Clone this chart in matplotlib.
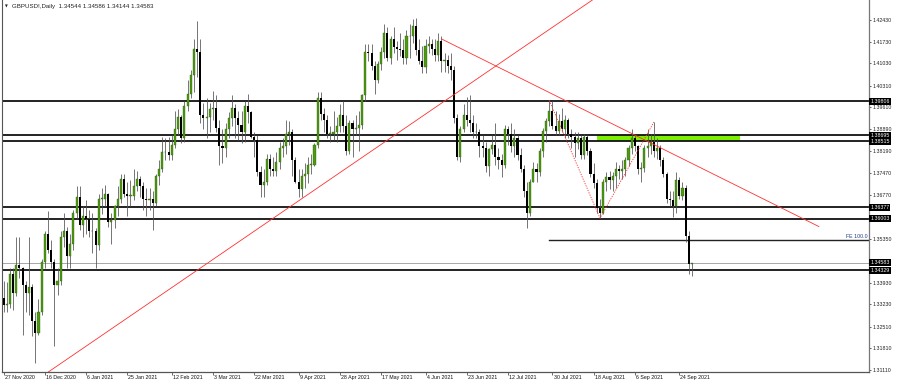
#!/usr/bin/env python3

import matplotlib.pyplot as plt
import matplotlib.transforms as mtransforms
from matplotlib.patches import Rectangle
import numpy as np
import pandas as pd

# ============================================================
# DATA  (GBPUSD! daily)
# ============================================================

first_open = 1.3345

highs = [
    1.3398, 1.3395,
    1.3440, 1.3440, 1.3540, 1.3540, 1.3445, 1.3400, 1.3540, 1.3390, 1.3300, 1.3340,
    1.3470, 1.3560, 1.3624, 1.3530, 1.3470, 1.3440, 1.3560, 1.3620, 1.3575, 1.3550,
    1.3630, 1.3705,
    1.3705, 1.3640, 1.3660, 1.3630, 1.3620, 1.3570, 1.3680, 1.3700, 1.3710, 1.3685,
    1.3620, 1.3645, 1.3705, 1.3745, 1.3745, 1.3720, 1.3725, 1.3760, 1.3755, 1.3740,
    1.3720, 1.3700, 1.3700, 1.3690, 1.3745, 1.3790, 1.3865, 1.3860, 1.3865, 1.3870,
    1.3950, 1.3955, 1.3935, 1.3980, 1.4050, 1.4080, 1.4180, 1.4241, 1.4180, 1.3975,
    1.3990, 1.3975, 1.4015, 1.4000, 1.3920, 1.3890, 1.3910, 1.3945, 1.4000, 1.3970,
    1.3950, 1.3950, 1.3980, 1.4005, 1.3950, 1.3880, 1.3870, 1.3770, 1.3760, 1.3810,
    1.3810, 1.3800, 1.3815,
    1.3850, 1.3860, 1.3920, 1.3915, 1.3890, 1.3800, 1.3760, 1.3760, 1.3780, 1.3800,
    1.3810, 1.3845, 1.4010, 1.4010, 1.3960, 1.3935, 1.3900, 1.3950, 1.3930, 1.3970,
    1.3980, 1.3935,
    1.3920, 1.3920, 1.3935, 1.3950, 1.4005, 1.4165, 1.4165, 1.4165, 1.4110, 1.4110,
    1.4155, 1.4230, 1.4220, 1.4190, 1.4220, 1.4175, 1.4200, 1.4180, 1.4210, 1.4230,
    1.4245,
    1.4250, 1.4180, 1.4160, 1.4180, 1.4190, 1.4180, 1.4180, 1.4200, 1.4190, 1.4135,
    1.4130, 1.4135, 1.4095, 1.3940, 1.3900, 1.3970, 1.3995, 1.4000, 1.3935, 1.3910,
    1.3890, 1.3870,
    1.3850, 1.3830, 1.3870, 1.3910, 1.3830, 1.3810, 1.3905, 1.3900, 1.3910, 1.3890,
    1.3870, 1.3830, 1.3775, 1.3720, 1.3730, 1.3785, 1.3780, 1.3830, 1.3895, 1.3925,
    1.3983, 1.3980,
    1.3950, 1.3940, 1.3960, 1.3935, 1.3925, 1.3890, 1.3880, 1.3880, 1.3870, 1.3875,
    1.3870, 1.3830, 1.3780, 1.3730, 1.3665, 1.3730, 1.3750, 1.3755, 1.3750, 1.3785,
    1.3775, 1.3790,
    1.3800, 1.3840, 1.3890, 1.3870, 1.3840, 1.3785, 1.3840, 1.3890, 1.3875, 1.3913,
    1.3860, 1.3840, 1.3800, 1.3750, 1.3690, 1.3690, 1.3750, 1.3735, 1.3720, 1.3710,
    1.3560, 1.34586,
]

lows = [
    1.3300, 1.3300,
    1.3310, 1.3305, 1.3350, 1.3410, 1.3225, 1.3300, 1.3290, 1.3220, 1.3135, 1.3225,
    1.3290, 1.3440, 1.3490, 1.3440, 1.3189, 1.3355, 1.3385, 1.3510, 1.3440, 1.3440,
    1.3500, 1.3600,
    1.3565, 1.3540, 1.3550, 1.3540, 1.3490, 1.3440, 1.3500, 1.3615, 1.3640, 1.3575,
    1.3520, 1.3570, 1.3610, 1.3650, 1.3670, 1.3610, 1.3640, 1.3660, 1.3690, 1.3670,
    1.3630, 1.3610, 1.3630, 1.3565, 1.3640, 1.3710, 1.3750, 1.3790, 1.3790, 1.3790,
    1.3830, 1.3870, 1.3845, 1.3850, 1.3950, 1.3990, 1.4010, 1.4060, 1.3910, 1.3890,
    1.3860, 1.3880, 1.3920, 1.3880, 1.3775, 1.3780, 1.3800, 1.3860, 1.3900, 1.3860,
    1.3855, 1.3845, 1.3850, 1.3910, 1.3860, 1.3800, 1.3740, 1.3670, 1.3670, 1.3710,
    1.3740, 1.3740, 1.3740,
    1.3760, 1.3800, 1.3810, 1.3840, 1.3740, 1.3715, 1.3670, 1.3670, 1.3700, 1.3715,
    1.3745, 1.3770, 1.3830, 1.3920, 1.3880, 1.3860, 1.3850, 1.3855, 1.3850, 1.3880,
    1.3880, 1.3805,
    1.3810, 1.3800, 1.3870, 1.3820, 1.3890, 1.3980, 1.4110, 1.4080, 1.4005, 1.4040,
    1.4080, 1.4120, 1.4110, 1.4100, 1.4135, 1.4115, 1.4125, 1.4100, 1.4100, 1.4120,
    1.4170,
    1.4130, 1.4100, 1.4070, 1.4070, 1.4135, 1.4130, 1.4110, 1.4110, 1.4075, 1.4075,
    1.4070, 1.4050, 1.3910, 1.3790, 1.3785, 1.3880, 1.3900, 1.3880, 1.3860, 1.3860,
    1.3800, 1.3800,
    1.3750, 1.3740, 1.3810, 1.3775, 1.3760, 1.3735, 1.3765, 1.3840, 1.3815, 1.3800,
    1.3790, 1.3750, 1.3670, 1.3570, 1.3610, 1.3720, 1.3720, 1.3740, 1.3800, 1.3850,
    1.3900, 1.3890,
    1.3870, 1.3870, 1.3880, 1.3860, 1.3860, 1.3830, 1.3800, 1.3825, 1.3795, 1.3795,
    1.3805, 1.3735, 1.3700, 1.3620, 1.3602, 1.3615, 1.3690, 1.3695, 1.3690, 1.3700,
    1.3730, 1.3730,
    1.3740, 1.3770, 1.3810, 1.3820, 1.3745, 1.3720, 1.3750, 1.3800, 1.3810, 1.3800,
    1.3795, 1.3770, 1.3735, 1.3650, 1.3640, 1.3607, 1.3620, 1.3665, 1.3660, 1.3525,
    1.3420, 1.34144,
]

closes = [
    1.3320, 1.3325,
    1.3420, 1.3360, 1.3450, 1.3440, 1.3385, 1.3360, 1.3380, 1.3270, 1.3230, 1.3300,
    1.3460, 1.3550, 1.3500, 1.3460, 1.3385, 1.3400, 1.3540, 1.3560, 1.3480, 1.3520,
    1.3620, 1.3670,
    1.3580, 1.3610, 1.3600, 1.3560, 1.3560, 1.3515, 1.3665, 1.3665, 1.3680, 1.3590,
    1.3595, 1.3640, 1.3665, 1.3730, 1.3680, 1.3675, 1.3675, 1.3705, 1.3730, 1.3705,
    1.3665, 1.3660, 1.3665, 1.3650, 1.3740, 1.3760, 1.3815, 1.3815, 1.3805, 1.3840,
    1.3890, 1.3930, 1.3860, 1.3965, 1.4005, 1.4065, 1.4150, 1.4140, 1.3935, 1.3925,
    1.3930, 1.3955, 1.3960, 1.3895, 1.3835, 1.3830, 1.3890, 1.3925, 1.3960, 1.3925,
    1.3905, 1.3880, 1.3965, 1.3945, 1.3865, 1.3855, 1.3750, 1.3710, 1.3720, 1.3795,
    1.3760, 1.3755, 1.3785,
    1.3830, 1.3835, 1.3875, 1.3880, 1.3790, 1.3720, 1.3695, 1.3740, 1.3745, 1.3775,
    1.3775, 1.3840, 1.3990, 1.3940, 1.3920, 1.3875, 1.3875, 1.3880, 1.3900, 1.3935,
    1.3900, 1.3820,
    1.3910, 1.3890, 1.3895, 1.3905, 1.4000, 1.4140, 1.4135, 1.4095, 1.4050, 1.4100,
    1.4140, 1.4200, 1.4120, 1.4180, 1.4155, 1.4150, 1.4145, 1.4120, 1.4190, 1.4190,
    1.4225,
    1.4145, 1.4110, 1.4090, 1.4160, 1.4165, 1.4150, 1.4130, 1.4175, 1.4110, 1.4115,
    1.4095, 1.4080, 1.3925, 1.3800, 1.3890, 1.3935, 1.3920, 1.3910, 1.3880, 1.3880,
    1.3835, 1.3830,
    1.3770, 1.3825, 1.3840, 1.3800, 1.3790, 1.3775, 1.3890, 1.3875, 1.3835, 1.3860,
    1.3805, 1.3760, 1.3690, 1.3620, 1.3720, 1.3760, 1.3750, 1.3820, 1.3885, 1.3915,
    1.3950, 1.3900,
    1.3885, 1.3915, 1.3890, 1.3920, 1.3875, 1.3865, 1.3845, 1.3860, 1.3805, 1.3865,
    1.3820, 1.3745, 1.3715, 1.3635, 1.3620, 1.3720, 1.3735, 1.3725, 1.3740, 1.3760,
    1.3755, 1.3760,
    1.3790, 1.3830, 1.3860, 1.3835, 1.3760, 1.3765, 1.3830, 1.3835, 1.3850, 1.3820,
    1.3830, 1.3790, 1.3745, 1.3665, 1.3660, 1.3640, 1.3725, 1.3675, 1.3700, 1.3545,
    1.34544, 1.34583,
]

holidays = ["2020-12-25", "2021-01-01"]
dates = pd.bdate_range("2020-11-27", "2021-09-30")
dates = dates[~dates.isin(pd.to_datetime(holidays))]

date_labels = [
    "27 Nov 2020", "16 Dec 2020", "6 Jan 2021", "25 Jan 2021", "12 Feb 2021",
    "3 Mar 2021", "22 Mar 2021", "9 Apr 2021", "28 Apr 2021", "17 May 2021",
    "4 Jun 2021", "23 Jun 2021", "12 Jul 2021", "30 Jul 2021", "18 Aug 2021",
    "6 Sep 2021", "24 Sep 2021",
]

price_ticks = [
    1.42430, 1.41730, 1.41030, 1.40310, 1.39610, 1.38890, 1.38190, 1.37470,
    1.36770, 1.35350, 1.33930, 1.33230, 1.32510, 1.31810, 1.31110,
]

# horizontal support / resistance levels
levels = [1.39806, 1.38695, 1.38515, 1.36377, 1.36003, 1.34329]
bid = 1.34583

# green zone (bar index range, price range)
zone_bars = (187, 232)
zone_prices = (1.38515, 1.38695)

# red trend lines as (bar, price) pairs
up_trend = [(-20, 1.28654), (200, 1.44087)]
down_trend = [(138, 1.4182), (257, 1.3575)]

# fibo expansion points A, B, C
fe_bars = [172, 188, 205]
fe_prices = [1.3983, 1.3602, 1.3913]

title = "GBPUSD!,Daily  1.34544 1.34586 1.34144 1.34583"

# ============================================================
# PREP
# ============================================================

closes = np.array(closes)
opens = np.concatenate([[first_open], closes[:-1]])
highs = np.maximum(np.array(highs), np.maximum(opens, closes))
lows = np.minimum(np.array(lows), np.minimum(opens, closes))
idx = np.arange(len(closes))
assert len(dates) == len(closes)

date_pos = [dates.get_loc(pd.to_datetime(d)) for d in date_labels]

# ============================================================
# PLOT
# ============================================================

FONT = "Liberation Sans"
FS = 3.8

fig = plt.figure(figsize=(9, 3.86), dpi=100)
W, H = 900, 386
ax = fig.add_axes([2 / W, (H - 372) / H, (869 - 2) / W, 372 / H])

ax.set_xlim(-0.5, 272.8)
ax.set_ylim(1.31046, 1.43077)

# zone
ax.add_patch(Rectangle(
    (zone_bars[0], zone_prices[0]),
    zone_bars[1] - zone_bars[0],
    zone_prices[1] - zone_prices[0],
    facecolor="#7cf000", edgecolor="none", zorder=1,
))

# levels
for lv in levels:
    ax.axhline(lv, color="#111111", linewidth=1.3, zorder=2)
ax.axhline(bid, color="#a8a8a8", linewidth=0.7, zorder=2)

# trend lines
ax.plot([p[0] for p in up_trend], [p[1] for p in up_trend],
        color="#ff3030", linewidth=0.6, zorder=4)
ax.plot([p[0] for p in down_trend], [p[1] for p in down_trend],
        color="#ff3030", linewidth=0.6, zorder=4)

# fibo expansion
ax.plot(fe_bars, fe_prices, color="#ff3030", linewidth=0.6,
        linestyle=(0, (1.5, 1.5)), zorder=4)
fe100 = fe_prices[2] - (fe_prices[0] - fe_prices[1])
ax.plot([fe_bars[0], 272.8], [fe100, fe100], color="#222222",
        linewidth=1.0, zorder=2)
ax.text(272.5, fe100 + 0.0003, "FE 100.0", ha="right", va="bottom",
        fontsize=FS, family=FONT, color="#1a3c8c", zorder=5)

# candles
bull = closes >= opens
ax.vlines(idx, lows, highs, color="#505050", linewidth=0.55, zorder=3)
body_lo = np.minimum(opens, closes)
body_h = np.maximum(np.abs(closes - opens), 0.00012)
ax.bar(idx[bull], body_h[bull], bottom=body_lo[bull], width=0.66,
       color="#4e9a12", edgecolor="#2a5a08", linewidth=0.25, zorder=3)
ax.bar(idx[~bull], body_h[~bull], bottom=body_lo[~bull], width=0.66,
       color="#000000", linewidth=0, zorder=3)

# frame
ax.spines["top"].set_visible(False)
ax.spines["left"].set_color("#555555")
ax.spines["left"].set_linewidth(0.8)
ax.spines["right"].set_color("#777777")
ax.spines["right"].set_linewidth(0.9)
ax.spines["bottom"].set_color("#555555")
ax.spines["bottom"].set_linewidth(0.9)

# y axis on the right
ax.yaxis.tick_right()
ax.set_yticks(price_ticks)
ax.set_yticklabels([f"{p:.5f}" for p in price_ticks])
ax.tick_params(axis="y", length=1.6, width=0.5, pad=1.2, colors="#222222",
               labelsize=FS)
for lab in ax.get_yticklabels():
    lab.set_family(FONT)

# x axis
ax.set_xticks(date_pos)
ax.set_xticklabels([])
ax.tick_params(axis="x", length=2.5, width=0.5, colors="#333333")
xform = mtransforms.blended_transform_factory(ax.transData, ax.transAxes)
for pos, lab in zip(date_pos, date_labels):
    ax.text(pos + 0.35, -0.008, lab, transform=xform, ha="left", va="top",
            fontsize=FS, family=FONT, color="#111111")

# price boxes on the right axis
yform = mtransforms.blended_transform_factory(ax.transAxes, ax.transData)
for lv in levels + [bid]:
    ax.text(1.0015, lv, f"{lv:.5f}", transform=yform, ha="left", va="center",
            fontsize=FS, family=FONT, color="white", zorder=6,
            bbox=dict(boxstyle="square,pad=0.2", facecolor="black",
                      edgecolor="none"), clip_on=False)

# title
fig.text(5 / W, 1 - 6.5 / H, "\u25bc", fontsize=2.6, family="DejaVu Sans",
         color="#222222", va="center", ha="left")
fig.text(12 / W, 1 - 6.5 / H, title, fontsize=4.4, family=FONT,
         color="#222222", va="center", ha="left")

fig.savefig("out.png", dpi=100, facecolor="white")
